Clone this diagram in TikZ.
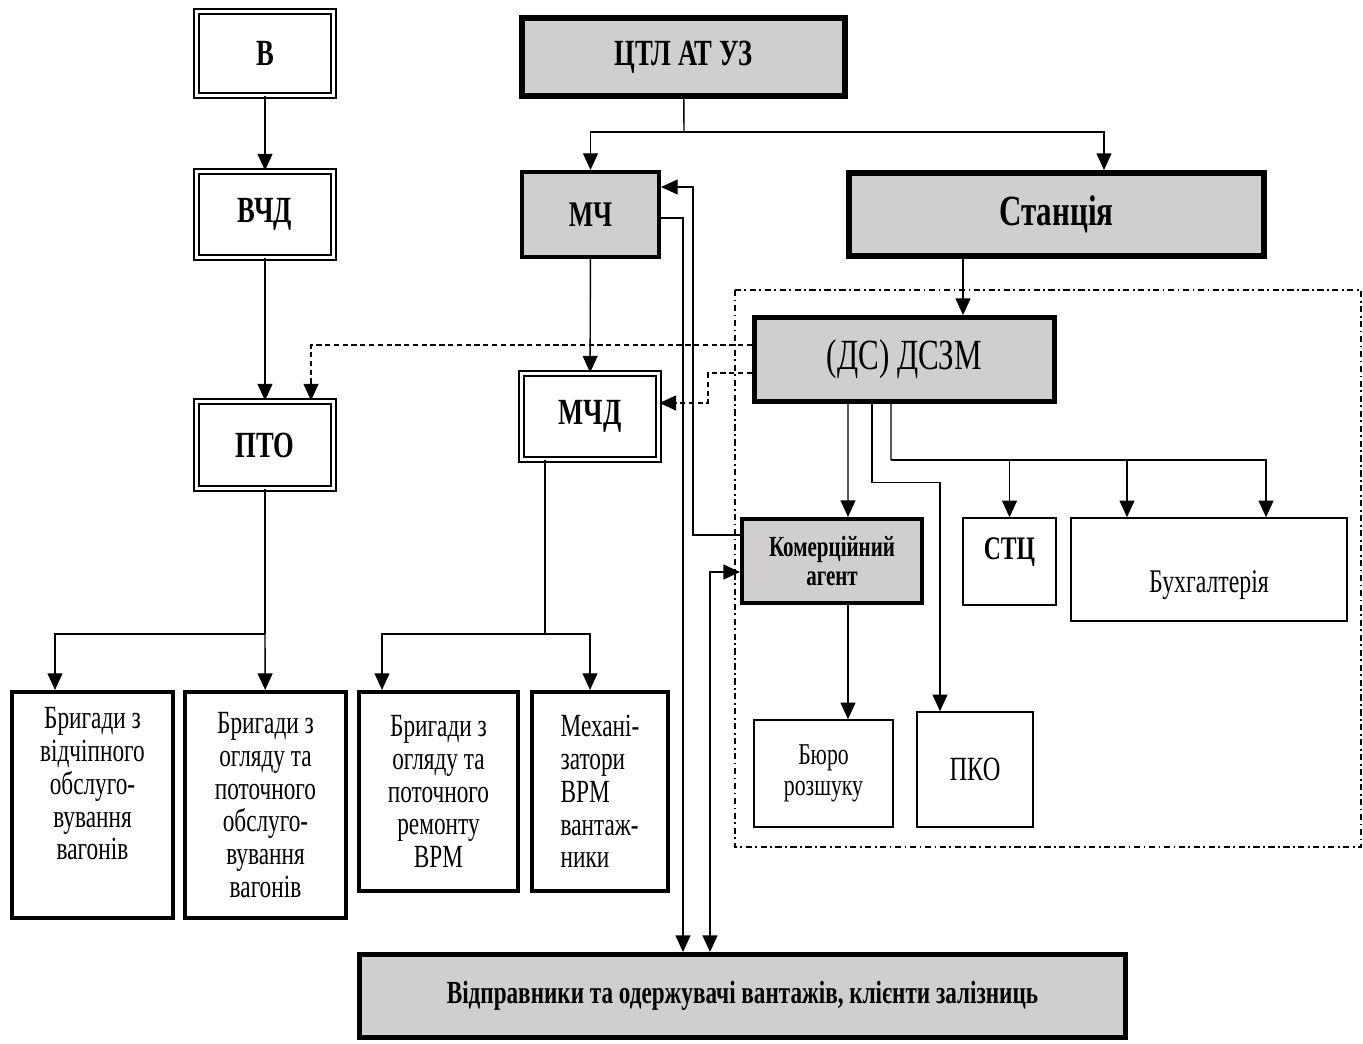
\documentclass[tikz,border=0pt]{standalone}
\usepackage{fontspec}
\setmainfont{Liberation Serif}[FakeStretch=0.72]
\usetikzlibrary{arrows.meta}
\definecolor{boxgrey}{RGB}{208,206,207}

\begin{document}
\begin{tikzpicture}[>={Triangle[length=9.5pt,width=8.5pt]}, line width=0.8pt,
    dblbox/.style={draw,double,double distance=1.7pt,line width=1.1pt,minimum width=2.74cm,font=\bfseries\fontsize{21}{24}\selectfont},
    greybox/.style={draw,fill=boxgrey,line width=2.3pt},
    thinbox/.style={draw,line width=0.85pt,align=center},
    crewbox/.style={draw,line width=2.3pt,align=center,font=\fontsize{18.4}{18.7}\selectfont},
    dashdot/.style={line width=0.8pt,dash pattern=on 3.5pt off 2pt on 1pt off 2pt},
    dashline/.style={dash pattern=on 3pt off 2pt}]
    \useasboundingbox (0,0) rectangle (27.26,-20.88);

    % wagon service
    \node[dblbox,minimum height=1.68cm] (v) at (5.30,-1.07) {В};
    \node[dblbox,minimum height=1.72cm] (vchd) at (5.30,-4.29) {ВЧД};
    \node[dblbox,minimum height=1.74cm] (pto) at (5.30,-8.90) {ПТО};

    % top of the railway
    \node[greybox,line width=3.4pt,minimum width=6.46cm,minimum height=1.56cm,font=\bfseries\fontsize{21}{24}\selectfont] (ctl) at (13.67,-1.14) {ЦТЛ АТ УЗ};
    \node[greybox,minimum width=2.74cm,minimum height=1.70cm,font=\bfseries\fontsize{20.5}{24}\selectfont] (mch) at (11.81,-4.29) {МЧ};
    \node[greybox,line width=3.4pt,minimum width=8.30cm,minimum height=1.66cm,font=\bfseries\fontsize{24.5}{28}\selectfont] (stan) at (21.13,-4.29) {Станція};
    \node[dblbox,minimum height=1.72cm] (mchd) at (11.80,-8.33) {МЧД};

    % station staff
    \draw[dashdot] (14.70,-5.80) rectangle (27.22,-16.94);
    \node[greybox,line width=2.8pt,minimum width=6.00cm,minimum height=1.68cm,font=\fontsize{24.5}{28}\selectfont] (dszm) at (18.09,-7.19) {(ДС) ДСЗМ};
    \node[greybox,align=center,minimum width=3.60cm,minimum height=1.68cm,font=\bfseries\fontsize{16.6}{16.6}\selectfont] (agent) at (16.64,-11.22) {Комерційний\\агент};
    \node[thinbox,minimum width=1.86cm,minimum height=1.74cm,text depth=15pt,font=\bfseries\fontsize{18.7}{21}\selectfont] (stc) at (20.19,-11.23) {СТЦ};
    \node[thinbox,minimum width=5.52cm,minimum height=2.06cm,text height=30pt,font=\fontsize{18.8}{21}\selectfont] (buh) at (24.18,-11.39) {Бухгалтерія};
    \node[thinbox,minimum width=2.78cm,minimum height=2.14cm,font=\fontsize{17.2}{17.6}\selectfont] (buro) at (16.47,-15.47) {Бюро\\розшуку};
    \node[thinbox,minimum width=2.32cm,minimum height=2.30cm,font=\fontsize{19.3}{22}\selectfont] (pko) at (19.50,-15.39) {ПКО};

    % crews
    \node[crewbox,minimum width=3.22cm,minimum height=4.52cm] (br1) at (1.85,-16.10) {Бригади з\\відчіпного\\обслуго-\\вування\\вагонів\\\strut};
    \node[crewbox,minimum width=3.22cm,minimum height=4.52cm] (br2) at (5.31,-16.10) {Бригади з\\огляду та\\поточного\\обслуго-\\вування\\вагонів};
    \node[crewbox,minimum width=3.18cm,minimum height=3.98cm] (br3) at (8.77,-15.83) {Бригади з\\огляду та\\поточного\\ремонту\\ВРМ};
    \node[crewbox,align=left,minimum width=2.72cm,minimum height=3.98cm] (br4) at (12.00,-15.83) {Механі-\\затори\\ВРМ\\вантаж-\\ники};

    \node[greybox,line width=2.8pt,minimum width=15.32cm,minimum height=1.66cm,font=\bfseries\fontsize{18.3}{21}\selectfont] (klient) at (14.85,-19.92) {Відправники та одержувачі вантажів, клієнти залізниць};

    \coordinate (fork1) at (13.68,-2.64);
    \coordinate (fork2) at (5.30,-12.68);
    \coordinate (fork3) at (10.90,-12.68);
    \coordinate (fork4) at (17.82,-9.20);

    \draw[->] (v) -- (vchd);
    \draw[->] (vchd) -- (pto);
    \draw (ctl) -- (fork1);
    \draw[->] (fork1) -| (mch);
    \draw[->] (fork1) -| ([xshift=0.95cm]stan.north);
    \draw[->] (mch) -- (mchd);
    \draw[->] ([xshift=1.17cm]dszm.north |- stan.south) -- ([xshift=1.17cm]dszm.north);
    \draw[dashline,->] ([yshift=0.29cm]dszm.west) -| ([xshift=0.92cm]pto.north);
    \draw[dashline,->] ([yshift=-0.27cm]dszm.west) -- ++(-0.88,0) |- ([yshift=0.27cm]mchd.east);

    \draw (pto) -- (fork2);
    \draw[->] (fork2) -| ([xshift=-0.75cm]br1.north);
    \draw[->] (fork2) -- (br2);
    \draw (fork3 |- mchd.south) -- (fork3);
    \draw[->] (fork3) -| ([xshift=-1.13cm]br3.north);
    \draw[->] (fork3) -| ([xshift=-0.2cm]br4.north);

    \draw[->] ([yshift=-0.07cm]mch.east) -| ([xshift=-1.19cm]klient.north);
    \draw[->] ([yshift=0.52cm]agent.west) -- ++(-0.94,0) |- ([yshift=0.55cm]mch.east);
    \draw[<->] ([xshift=-0.65cm]klient.north) |- ([yshift=-0.22cm]agent.west);

    \draw[->] ([xshift=-1.13cm]dszm.south) -- ([xshift=0.32cm]agent.north);
    \draw[->] ([xshift=-0.65cm]dszm.south) -- ++(0,-1.57) -| ([xshift=-0.7cm]pko.north);
    \draw ([xshift=-0.27cm]dszm.south) -- (fork4);
    \draw[->] (fork4) -| (stc.north);
    \draw[->] (fork4) -| ([xshift=-1.64cm]buh.north);
    \draw[->] (fork4) -| ([xshift=1.14cm]buh.north);
    \draw[->] ([xshift=0.32cm]agent.south) -- ([xshift=0.49cm]buro.north);
\end{tikzpicture}
\end{document}
